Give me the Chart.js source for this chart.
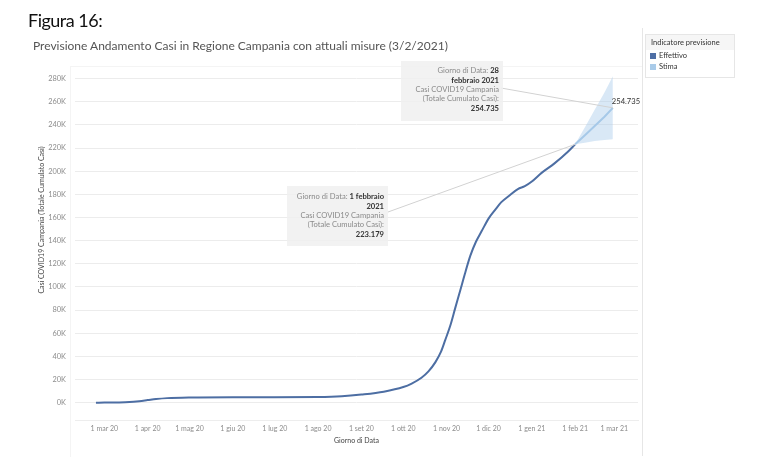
<!DOCTYPE html>
<html lang="it">
<head>
<meta charset="utf-8">
<title>Figura 16</title>
<script src="https://cdn.jsdelivr.net/npm/chart.js"></script>
<style>
  body { margin: 0; background: #fff; font-family: Lato, sans-serif; }
  #wrap { position: relative; width: 767px; height: 463px; overflow: hidden; }
  #chart { position: absolute; left: 0; top: 0; }
  .fig { position: absolute; left: 28px; top: 9px; font-size: 18px; letter-spacing: -0.5px; color: #111; }
  .sub { position: absolute; left: 33px; top: 38px; font-size: 12px; color: #555; white-space: nowrap; }
  .divider { position: absolute; left: 642px; top: 28px; width: 1px; height: 428px; background: #e6e6e6; }
  .pane { position: absolute; left: 70px; top: 66px; width: 572px; height: 390px; border-left: 1px solid #f4f4f4; border-top: 1px solid #f4f4f4; }
  .legend { position: absolute; left: 645px; top: 34px; width: 88px; height: 42px; border: 1px solid #e6e6e6; font-size: 7.5px; color: #333; }
  .legend .hd { background: #f6f6f6; padding: 3px 4px 3px 5px; }
  .legend .it { display: flex; align-items: center; padding: 1px 4px; height: 9px; }
  .legend .sw { width: 6px; height: 6px; margin-right: 3px; }
</style>
</head>
<body>
<div id="wrap">
  <div class="pane"></div>
  <canvas id="chart" width="767" height="463"></canvas>
  <div class="fig">Figura 16:</div>
  <div class="sub">Previsione Andamento Casi in Regione Campania con attuali misure (3/2/2021)</div>
  <div class="divider"></div>
  <div class="legend">
    <div class="hd">Indicatore previsione</div>
    <div class="it"><span class="sw" style="background:#4e6fa5"></span>Effettivo</div>
    <div class="it"><span class="sw" style="background:#a9cbe9"></span>Stima</div>
  </div>
</div>
<script>
// days counted from 1 mar 2020
const actualDays = [-6, 0, 10, 18, 25, 31, 37, 45, 61, 92, 122, 153, 170, 184, 200, 214, 220, 227, 232, 237, 241, 244, 248, 251, 255, 258, 262, 266, 270, 272, 275, 280, 284, 290, 296, 301, 306, 313, 322, 332, 337];
const actualCases = [0, 20, 150, 500, 1300, 2200, 3100, 3900, 4500, 4750, 4700, 4850, 5500, 7000, 9500, 13500, 16500, 21500, 27000, 35000, 44000, 54000, 68000, 81000, 98000, 111000, 127000, 139000, 148000, 152500, 159000, 167000, 173000, 179000, 184500, 187000, 191000, 198500, 206500, 217000, 223179];

const forecastDays = [337, 344, 351, 358, 364];
const forecastCases = [223179, 231000, 239000, 247000, 254735];
const bandLower = [223179, 224500, 226000, 227000, 227500];
const bandUpper = [223179, 238000, 253000, 268000, 282000];

const monthTicks = [0, 31, 61, 92, 122, 153, 184, 214, 245, 275, 306, 337, 365];
const monthLabels = ['1 mar 20', '1 apr 20', '1 mag 20', '1 giu 20', '1 lug 20', '1 ago 20', '1 set 20', '1 ott 20', '1 nov 20', '1 dic 20', '1 gen 21', '1 feb 21', '1 mar 21'];
const yTicks = [0, 20000, 40000, 60000, 80000, 100000, 120000, 140000, 160000, 180000, 200000, 220000, 240000, 260000, 280000];

const fmt = n => String(Math.round(n)).replace(/\B(?=(\d{3})+(?!\d))/g, '.');
const pts = (xs, ys) => xs.map((d, i) => ({ x: d, y: ys[i] }));

const lastF = forecastCases.length - 1;
const lastA = actualCases.length - 1;

// callout boxes (tableau style tooltips left on the view)
const notes = [
  {
    day: forecastDays[lastF], value: forecastCases[lastF],
    box: { x: 401, y: 61, w: 102, h: 60 }, from: { x: 501, y: 88 }, top: 71,
    lines: [
      [['Giorno di Data: ', false], ['28', true]],
      [['febbraio 2021', true]],
      [['Casi COVID19 Campania', false]],
      [['(Totale Cumulato Casi):', false]],
      [[fmt(forecastCases[lastF]), true]]
    ]
  },
  {
    day: actualDays[lastA], value: actualCases[lastA],
    box: { x: 287, y: 186, w: 101, h: 60 }, from: { x: 388, y: 212 }, top: 197,
    lines: [
      [['Giorno di Data: ', false], ['1 febbraio', true]],
      [['2021', true]],
      [['Casi COVID19 Campania', false]],
      [['(Totale Cumulato Casi):', false]],
      [[fmt(actualCases[lastA]), true]]
    ]
  }
];

const notesPlugin = {
  id: 'notes',
  afterDatasetsDraw(chart) {
    const { ctx, scales: { x, y } } = chart;
    ctx.save();
    notes.forEach(n => {
      const px = x.getPixelForValue(n.day);
      const py = y.getPixelForValue(n.value);
      ctx.strokeStyle = '#d2d2d2';
      ctx.lineWidth = 1;
      ctx.beginPath();
      ctx.moveTo(n.from.x, n.from.y);
      ctx.lineTo(px, py);
      ctx.stroke();
      ctx.fillStyle = 'rgba(240,240,240,0.85)';
      ctx.fillRect(n.box.x, n.box.y, n.box.w, n.box.h);
      const right = n.box.x + n.box.w - 4;
      ctx.textBaseline = 'middle';
      ctx.textAlign = 'left';
      n.lines.forEach((segs, i) => {
        const ly = n.top + i * 9.3;
        let w = 0;
        segs.forEach(([t, b]) => {
          ctx.font = (b ? 'bold ' : '') + '7.6px Lato';
          w += ctx.measureText(t).width;
        });
        let cx = right - w;
        segs.forEach(([t, b]) => {
          ctx.font = (b ? 'bold ' : '') + '7.6px Lato';
          ctx.fillStyle = b ? '#333' : '#8a8a8a';
          ctx.fillText(t, cx, ly);
          cx += ctx.measureText(t).width;
        });
      });
    });
    // end label of the forecast
    const ex = x.getPixelForValue(forecastDays[lastF]);
    const ey = y.getPixelForValue(forecastCases[lastF]);
    ctx.font = '7.6px Lato';
    ctx.fillStyle = '#333';
    ctx.textAlign = 'left';
    ctx.fillText(fmt(forecastCases[lastF]), ex - 1, ey - 6);

    // y axis title
    ctx.translate(42, 220);
    ctx.rotate(-Math.PI / 2);
    ctx.textAlign = 'center';
    ctx.font = '7px Lato';
    ctx.fillStyle = '#444';
    ctx.fillText('Casi COVID19 Campania (Totale Cumulato Casi)', 0, 0);
    ctx.restore();
  }
};

Chart.defaults.font.family = 'Lato';

new Chart(document.getElementById('chart'), {
  type: 'line',
  data: {
    datasets: [
      {
        label: 'upper', data: pts(forecastDays, bandUpper),
        borderWidth: 0, pointRadius: 0, fill: '+1',
        backgroundColor: 'rgba(170,205,236,0.45)', borderColor: 'rgba(0,0,0,0)'
      },
      {
        label: 'lower', data: pts(forecastDays, bandLower),
        borderWidth: 0, pointRadius: 0, fill: false, borderColor: 'rgba(0,0,0,0)'
      },
      {
        label: 'Stima', data: pts(forecastDays, forecastCases),
        borderColor: '#a3c6e6', borderWidth: 2, pointRadius: 0, fill: false
      },
      {
        label: 'Effettivo', data: pts(actualDays, actualCases),
        borderColor: '#4d6ea3', borderWidth: 2, pointRadius: 0, fill: false,
        cubicInterpolationMode: 'monotone'
      }
    ]
  },
  options: {
    responsive: false,
    animation: false,
    layout: { padding: { left: 0, right: 129, top: 67, bottom: 12 } },
    plugins: { legend: { display: false }, tooltip: { enabled: false } },
    scales: {
      x: {
        type: 'linear', min: -21, max: 382,
        afterBuildTicks: s => { s.ticks = monthTicks.map(v => ({ value: v })); },
        afterFit: s => { s.height = 31; },
        ticks: {
          callback: v => monthLabels[monthTicks.indexOf(v)],
          color: '#8c8c8c', font: { size: 7 }, padding: 5, maxRotation: 0, autoSkip: false
        },
        grid: { display: false, drawTicks: false },
        border: { display: true, color: '#ededed' },
        title: { display: true, text: 'Giorno di Data', color: '#444', font: { size: 7 }, padding: { top: 2, bottom: 6 } }
      },
      y: {
        min: -15000, max: 290000,
        afterBuildTicks: s => { s.ticks = yTicks.map(v => ({ value: v })); },
        afterFit: s => { s.width = 75; },
        ticks: { callback: v => (v / 1000) + 'K', color: '#8c8c8c', font: { size: 7.4 }, padding: 9 },
        grid: { color: '#ececec', drawTicks: false },
        border: { display: false }
      }
    }
  },
  plugins: [notesPlugin]
});
</script>
</body>
</html>
